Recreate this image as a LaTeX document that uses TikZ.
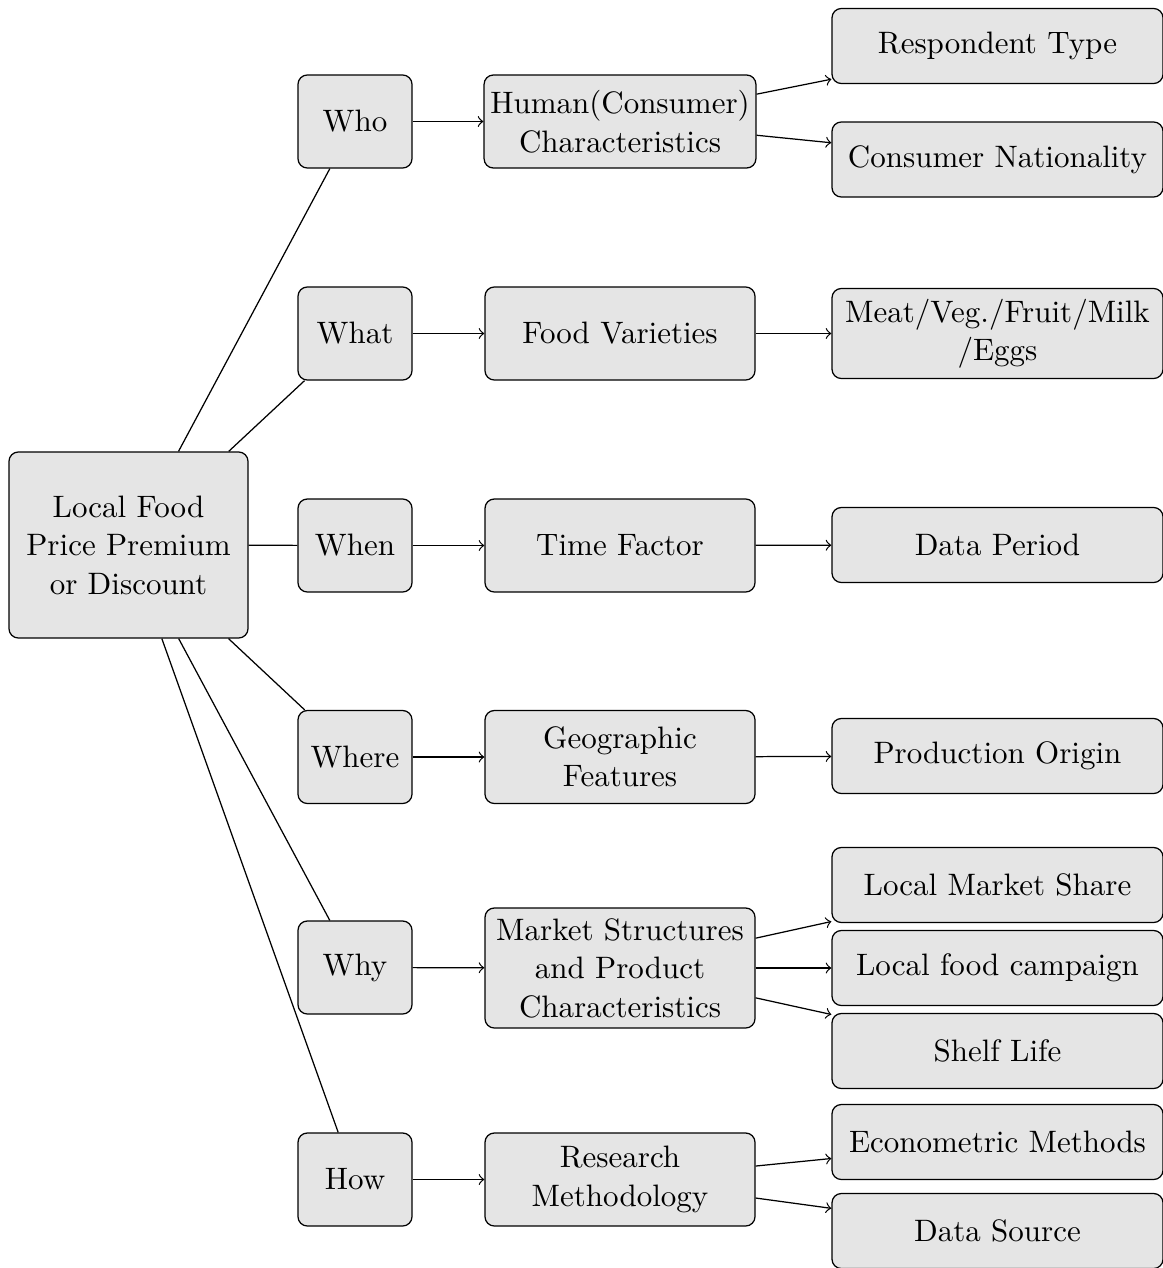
\documentclass[tikz,border=0pt]{standalone}
\usetikzlibrary{arrows}
\begin{document}
\def\s{0.3226pt}
\begin{tikzpicture}[x=\s, y=-\s,
  box/.style={draw, fill=gray!20, rounded corners=3pt, align=center, inner sep=2pt,
    font=\fontsize{10}{12.4}\selectfont},
  rootbox/.style={box, minimum width=239*\s, minimum height=186*\s},
  wbox/.style={box, minimum width=114*\s, minimum height=93*\s},
  mbox/.style={box, minimum width=270*\s, minimum height=93*\s},
  rbox/.style={box, minimum width=331*\s, minimum height=75*\s},
  arr/.style={->}]
\useasboundingbox (0,0) rectangle (1163,1268);

% root
\node[rootbox] (root) at (128.5,545) {Local Food\\Price Premium\\or Discount};

% question column
\node[wbox] (who)   at (355,121.5)  {Who};
\node[wbox] (what)  at (355,333.5)  {What};
\node[wbox] (when)  at (355,545.5)  {When};
\node[wbox] (where) at (355,757)    {Where};
\node[wbox] (why)   at (355,967.5)  {Why};
\node[wbox] (how)   at (355,1179.5) {How};

% category column
\node[mbox] (human)  at (620,121.5)  {Human(Consumer)\\Characteristics};
\node[mbox] (food)   at (620,333.5)  {Food Varieties};
\node[mbox] (time)   at (620,545.5)  {Time Factor};
\node[mbox] (geo)    at (620,757)    {Geographic\\Features};
\node[mbox, minimum height=120*\s] (market) at (620,968) {Market Structures\\and Product\\Characteristics};
\node[mbox] (method) at (620,1179.5) {Research\\Methodology};

% detail column
\node[rbox] (resp)   at (997.5,46)   {Respondent Type};
\node[rbox] (nat)    at (997.5,159.5) {Consumer Nationality};
\node[rbox, minimum height=90*\s] (meat) at (997.5,333.5) {Meat/Veg./Fruit/Milk\\/Eggs};
\node[rbox] (period) at (997.5,545)  {Data Period};
\node[rbox] (origin) at (997.5,756)  {Production Origin};
\node[rbox] (share)  at (997.5,885)  {Local Market Share};
\node[rbox] (camp)   at (997.5,968)  {Local food campaign};
\node[rbox] (shelf)  at (997.5,1051) {Shelf Life};
\node[rbox] (econ)   at (997.5,1142) {Econometric Methods};
\node[rbox] (source) at (997.5,1231) {Data Source};

% root to questions
\foreach \q in {who,what,when,where,why,how}
  \draw (root) -- (\q);

% questions to categories
\draw[arr] (who) -- (human);
\draw[arr] (what) -- (food);
\draw[arr] (when) -- (time);
\draw[arr] (where) -- (geo);
\draw[arr] (why) -- (market);
\draw[arr] (how) -- (method);

% categories to details
\draw[arr] (human) -- (resp);
\draw[arr] (human) -- (nat);
\draw[arr] (food) -- (meat);
\draw[arr] (time) -- (period);
\draw[arr] (geo) -- (origin);
\draw[arr] (market) -- (share);
\draw[arr] (market) -- (camp);
\draw[arr] (market) -- (shelf);
\draw[arr] (method) -- (econ);
\draw[arr] (method) -- (source);
\end{tikzpicture}
\end{document}
